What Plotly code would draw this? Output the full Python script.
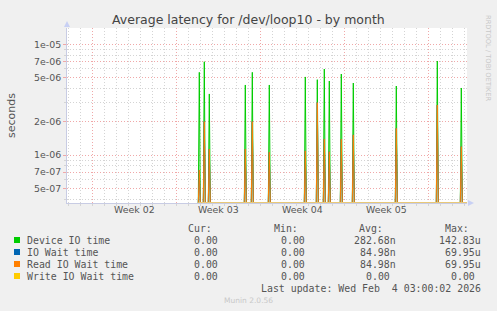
import pandas as pd
import plotly.graph_objects as go

# ---------------- data ----------------
spike_times = ["2026-01-13 22:00", "2026-01-14 08:00", "2026-01-14 18:00",
               "2026-01-17 18:00", "2026-01-18 08:00", "2026-01-19 18:00",
               "2026-01-22 18:00", "2026-01-23 18:00", "2026-01-24 08:00",
               "2026-01-24 18:00", "2026-01-25 18:00", "2026-01-26 18:00",
               "2026-01-30 08:00", "2026-02-02 18:00", "2026-02-04 18:00"]
device_io = [5.58e-6, 6.96e-6, 3.56e-6, 4.29e-6, 5.58e-6, 4.29e-6, 5.07e-6, 4.79e-6,
             5.98e-6, 4.66e-6, 5.39e-6, 4.47e-6, 4.20e-6, 7.06e-6, 4.03e-6]
io_wait = [7.32e-7, 2.0e-6, 1.13e-6, 1.13e-6, 2.0e-6, 1.06e-6, 1.09e-6, 2.97e-6,
           1.39e-6, 1.07e-6, 1.39e-6, 1.52e-6, 1.74e-6, 2.83e-6, 1.19e-6]
read_io_wait = list(io_wait)
write_times = ["2026-01-13 20:00", "2026-02-05 06:00"]
write_io_wait = [0.0, 0.0]

x_start, x_end = "2026-01-02 21:24", "2026-02-05 05:24"
week_starts = ["2026-01-05", "2026-01-12", "2026-01-19", "2026-01-26", "2026-02-02"]
week_mid = ["2026-01-08 12:00", "2026-01-15 12:00", "2026-01-22 12:00", "2026-01-29 12:00"]
week_labels = ["Week 02", "Week 03", "Week 04", "Week 05"]
day_ticks = [str(d.date()) for d in pd.date_range("2026-01-03", "2026-02-05", freq="D")]

y_major = [5e-7, 7e-7, 1e-6, 2e-6, 5e-6, 7e-6, 1e-5]
y_major_text = ["5e-07", "7e-07", "1e-06", "2e-06", "5e-06", "7e-06", "1e-05"]
y_minor = [4e-7, 6e-7, 8e-7, 9e-7, 3e-6, 4e-6, 6e-6, 8e-6, 9e-6]
y_log_range = [-6.4336, -4.8528]

series_names = ["Device IO time", "IO Wait time", "Read IO Wait time", "Write IO Wait time"]
series_colors = ["#00CC00", "#0066B3", "#FF8000", "#FFCC00"]
cur_vals = ["0.00\u00a0", "0.00\u00a0", "0.00\u00a0", "0.00\u00a0"]
min_vals = ["0.00\u00a0", "0.00\u00a0", "0.00\u00a0", "0.00\u00a0"]
avg_vals = ["282.68n", "84.98n", "84.98n", "0.00\u00a0"]
max_vals = ["142.83u", "69.95u", "69.95u", "0.00\u00a0"]

# ---------------- layout helpers ----------------
W, H = 497, 311
L, R, T, B = 67, 467, 28, 203
def px(x): return (x - L) / (R - L)
def py(y): return (B - y) / (B - T)

floor = 10 ** y_log_range[0]
step = pd.Timedelta(hours=2)

def spikes(times, vals):
    xs, ys = [], []
    for t, v in zip(times, vals):
        t = pd.Timestamp(t)
        xs += [t - step, t, t + step, None]
        ys += [floor, max(v, floor), floor, None]
    return xs, ys

fig = go.Figure()
for name, vals, col in [(series_names[0], device_io, series_colors[0]),
                        (series_names[1], io_wait, series_colors[1]),
                        (series_names[2], read_io_wait, series_colors[2])]:
    xs, ys = spikes(spike_times, vals)
    fig.add_trace(go.Scatter(x=xs, y=ys, mode="lines", line=dict(color=col, width=1),
                             name=name, showlegend=False, hoverinfo="skip"))
fig.add_trace(go.Scatter(x=[pd.Timestamp(t) for t in write_times],
                         y=[max(v, floor) for v in write_io_wait], mode="lines",
                         line=dict(color="#E8C878", width=2), name=series_names[3],
                         showlegend=False, hoverinfo="skip"))
# dummy trace for the label axis
fig.add_trace(go.Scatter(x=[pd.Timestamp(week_mid[0])], y=[floor], xaxis="x2",
                         mode="markers", marker=dict(opacity=0), showlegend=False,
                         hoverinfo="skip"))

red = "#F0A8A8"
gray = "#D4D4D4"
axcol = "#C8CCE4"
font = "DejaVu Sans"
mono = "DejaVu Sans Mono"

fig.update_layout(
    width=W, height=H, margin=dict(l=L, r=W - R, t=T, b=H - B),
    paper_bgcolor="#F0F0F0", plot_bgcolor="#FFFFFF",
    font=dict(family=font, size=9.4, color="#555555"),
    xaxis=dict(type="date", range=[x_start, x_end], tickvals=week_starts,
               ticktext=[""] * len(week_starts), showgrid=True, gridcolor=red,
               griddash="1px,2px", gridwidth=1, ticks="outside", ticklen=3,
               tickcolor=red, showline=True, linecolor=axcol, zeroline=False,
               layer="below traces",
               minor=dict(tickvals=day_ticks, showgrid=True, gridcolor=gray,
                          griddash="1px,2px", ticks="outside", ticklen=2,
                          tickcolor=gray)),
    xaxis2=dict(type="date", range=[x_start, x_end], overlaying="x", side="bottom",
                tickvals=week_mid, ticktext=week_labels, showgrid=False,
                ticks="", showline=False, zeroline=False,
                tickfont=dict(family=font, size=9.4, color="#555555")),
    yaxis=dict(type="log", range=y_log_range, tickvals=y_major, ticktext=y_major_text,
               showgrid=True, gridcolor=red, griddash="1px,2px", ticks="outside",
               ticklen=3, tickcolor=red, showline=True, linecolor=axcol,
               zeroline=False, layer="below traces",
               tickfont=dict(family=font, size=9.4, color="#555555"),
               minor=dict(tickvals=y_minor, showgrid=True, gridcolor=gray,
                          griddash="1px,2px", ticks="outside", ticklen=2,
                          tickcolor=gray)),
)

ann = []
ann.append(dict(text="Average latency for /dev/loop10 - by month", x=px(248), y=py(20),
                xanchor="center", yanchor="middle",
                font=dict(family=font, size=12.5, color="#444444")))
ann.append(dict(text="seconds", x=px(11), y=py(115), textangle=-90, xanchor="center",
                yanchor="middle", font=dict(family=font, size=11, color="#555555")))
ann.append(dict(text="RRDTOOL / TOBI OETIKER", x=px(488), y=py(58), textangle=90,
                xanchor="center", yanchor="middle",
                font=dict(family=font, size=6.7, color="#C8C8C8")))
headers = ["Cur:", "Min:", "Avg:", "Max:"]
head_x = [212.7, 299, 384, 470]
for h, hx in zip(headers, head_x):
    ann.append(dict(text=h, x=px(hx), y=py(228), xanchor="right", yanchor="middle",
                    font=dict(family=mono, size=9.9, color="#555555")))
col_x = [225.3, 311.7, 396.7, 482.3]
row_y = [240, 252, 264, 276]
fig_shapes = []
for i, name in enumerate(series_names):
    ann.append(dict(text=name, x=px(26), y=py(row_y[i]), xanchor="left", yanchor="middle",
                    font=dict(family=mono, size=9.9, color="#555555")))
    for cx, vals in zip(col_x, [cur_vals, min_vals, avg_vals, max_vals]):
        ann.append(dict(text=vals[i], x=px(cx), y=py(row_y[i]), xanchor="right",
                        yanchor="middle", font=dict(family=mono, size=9.9, color="#555555")))
    fig_shapes.append(dict(type="rect", xref="paper", yref="paper",
                           x0=px(14), x1=px(20), y0=py(row_y[i] + 3), y1=py(row_y[i] - 3),
                           fillcolor=series_colors[i], line=dict(width=0)))
ann.append(dict(text="Last update: Wed Feb\u00a0 4 03:00:02 2026", x=px(482.3), y=py(288),
                xanchor="right", yanchor="middle",
                font=dict(family=mono, size=9.9, color="#555555")))
ann.append(dict(text="Munin 2.0.56", x=px(248), y=py(300), xanchor="center",
                yanchor="middle", font=dict(family=font, size=7.5, color="#C8C8C8")))
for a in ann:
    a.update(xref="paper", yref="paper", showarrow=False, borderpad=0)

# axis arrows
fig_shapes.append(dict(type="path", xref="paper", yref="paper",
                       path=f"M {px(64)} {py(27)} L {px(70)} {py(27)} L {px(67)} {py(21)} Z",
                       fillcolor="#C8D0F4", line=dict(width=0)))
fig_shapes.append(dict(type="path", xref="paper", yref="paper",
                       path=f"M {px(468)} {py(200)} L {px(468)} {py(206)} L {px(474)} {py(203)} Z",
                       fillcolor="#C8D0F4", line=dict(width=0)))

fig.update_layout(annotations=ann, shapes=fig_shapes)
fig.write_html("out.html")
